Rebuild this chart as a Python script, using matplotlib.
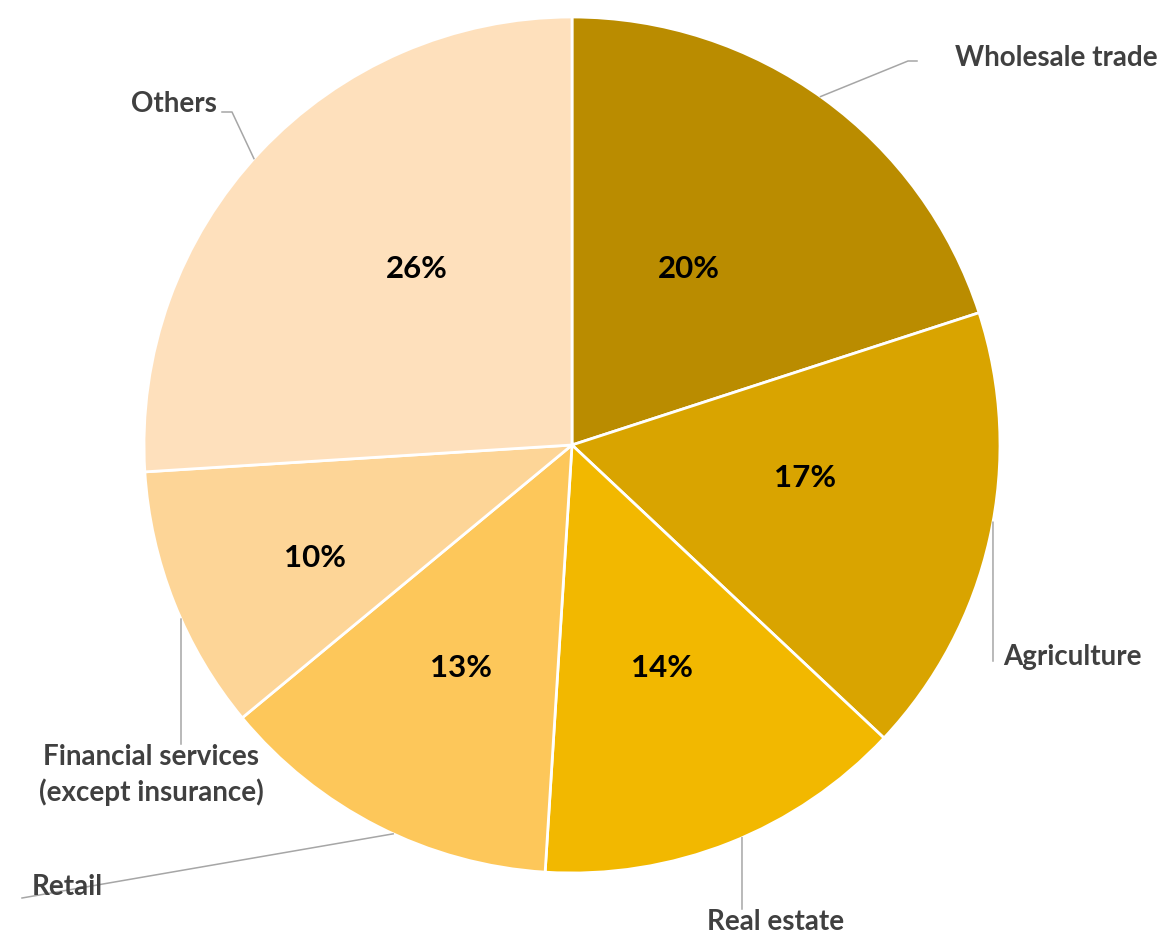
import numpy as np
import matplotlib.pyplot as plt

# Share of companies by industry
industries = ["Wholesale trade", "Agriculture", "Real estate", "Retail",
              "Financial services\n(except insurance)", "Others"]
shares = [20, 17, 14, 13, 10, 26]
colors = ["#BA8C00", "#D9A400", "#F2B800", "#FDC75A", "#FDD597", "#FEE0BC"]

W, H = 1168, 937
cx, cy, R = 572, H - 446, 428

fig = plt.figure(figsize=(W / 100, H / 100), dpi=100)
ax = fig.add_axes([0, 0, 1, 1])

wedges, _ = ax.pie(shares, colors=colors, startangle=90, counterclock=False,
                   center=(cx, cy), radius=R,
                   wedgeprops=dict(edgecolor="white", linewidth=2))

# pie() resets the limits, so set them afterwards
ax.set_xlim(0, W)
ax.set_ylim(0, H)
ax.set_aspect("equal")
ax.axis("off")

# percent labels inside slices: radius fraction and angle nudge (deg)
pct_r = [0.495, 0.55, 0.56, 0.58, 0.655, 0.55]
pct_da = [2.5, 4.8, 0.4, 0.5, 1.9, -5.4]
for w, s, f, da in zip(wedges, shares, pct_r, pct_da):
    a = np.deg2rad((w.theta1 + w.theta2) / 2 + da)
    ax.text(cx + f * R * np.cos(a), cy + f * R * np.sin(a), f"{s}%",
            ha="center", va="center", fontsize=22.5, fontweight="bold",
            family="Lato", color="black")

# outer labels: angle where the leader leaves the rim, its bend points,
# then the text anchor
rim_angle = [54.5, -10.4, -66.6, -114.7, -156.0, 138.0]
leaders = [
    [(908, 62), (917, 62)],
    [(993, 662)],
    [(742, 910)],
    [(103, 885), (22, 899)],
    [(181, 745)],
    [(232, 113), (222, 113)],
]
text_pos = [(955, 58, "left"), (1003, 657, "left"), (776, 922, "center"),
            (32, 887, "left"), (151, 775, "center"), (217, 104, "right")]

for name, ang, pts, (tx, ty, ha) in zip(industries, rim_angle, leaders, text_pos):
    a = np.deg2rad(ang)
    xs = [cx + R * np.cos(a)] + [p[0] for p in pts]
    ys = [cy + R * np.sin(a)] + [H - p[1] for p in pts]
    ax.plot(xs, ys, color="#A6A6A6", linewidth=1.1, zorder=1)
    ax.text(tx, H - ty, name, ha=ha, va="center", fontsize=20,
            fontweight="bold", family="Lato", color="#404040",
            multialignment="center", linespacing=1.35)

fig.savefig("out.png", dpi=100)
